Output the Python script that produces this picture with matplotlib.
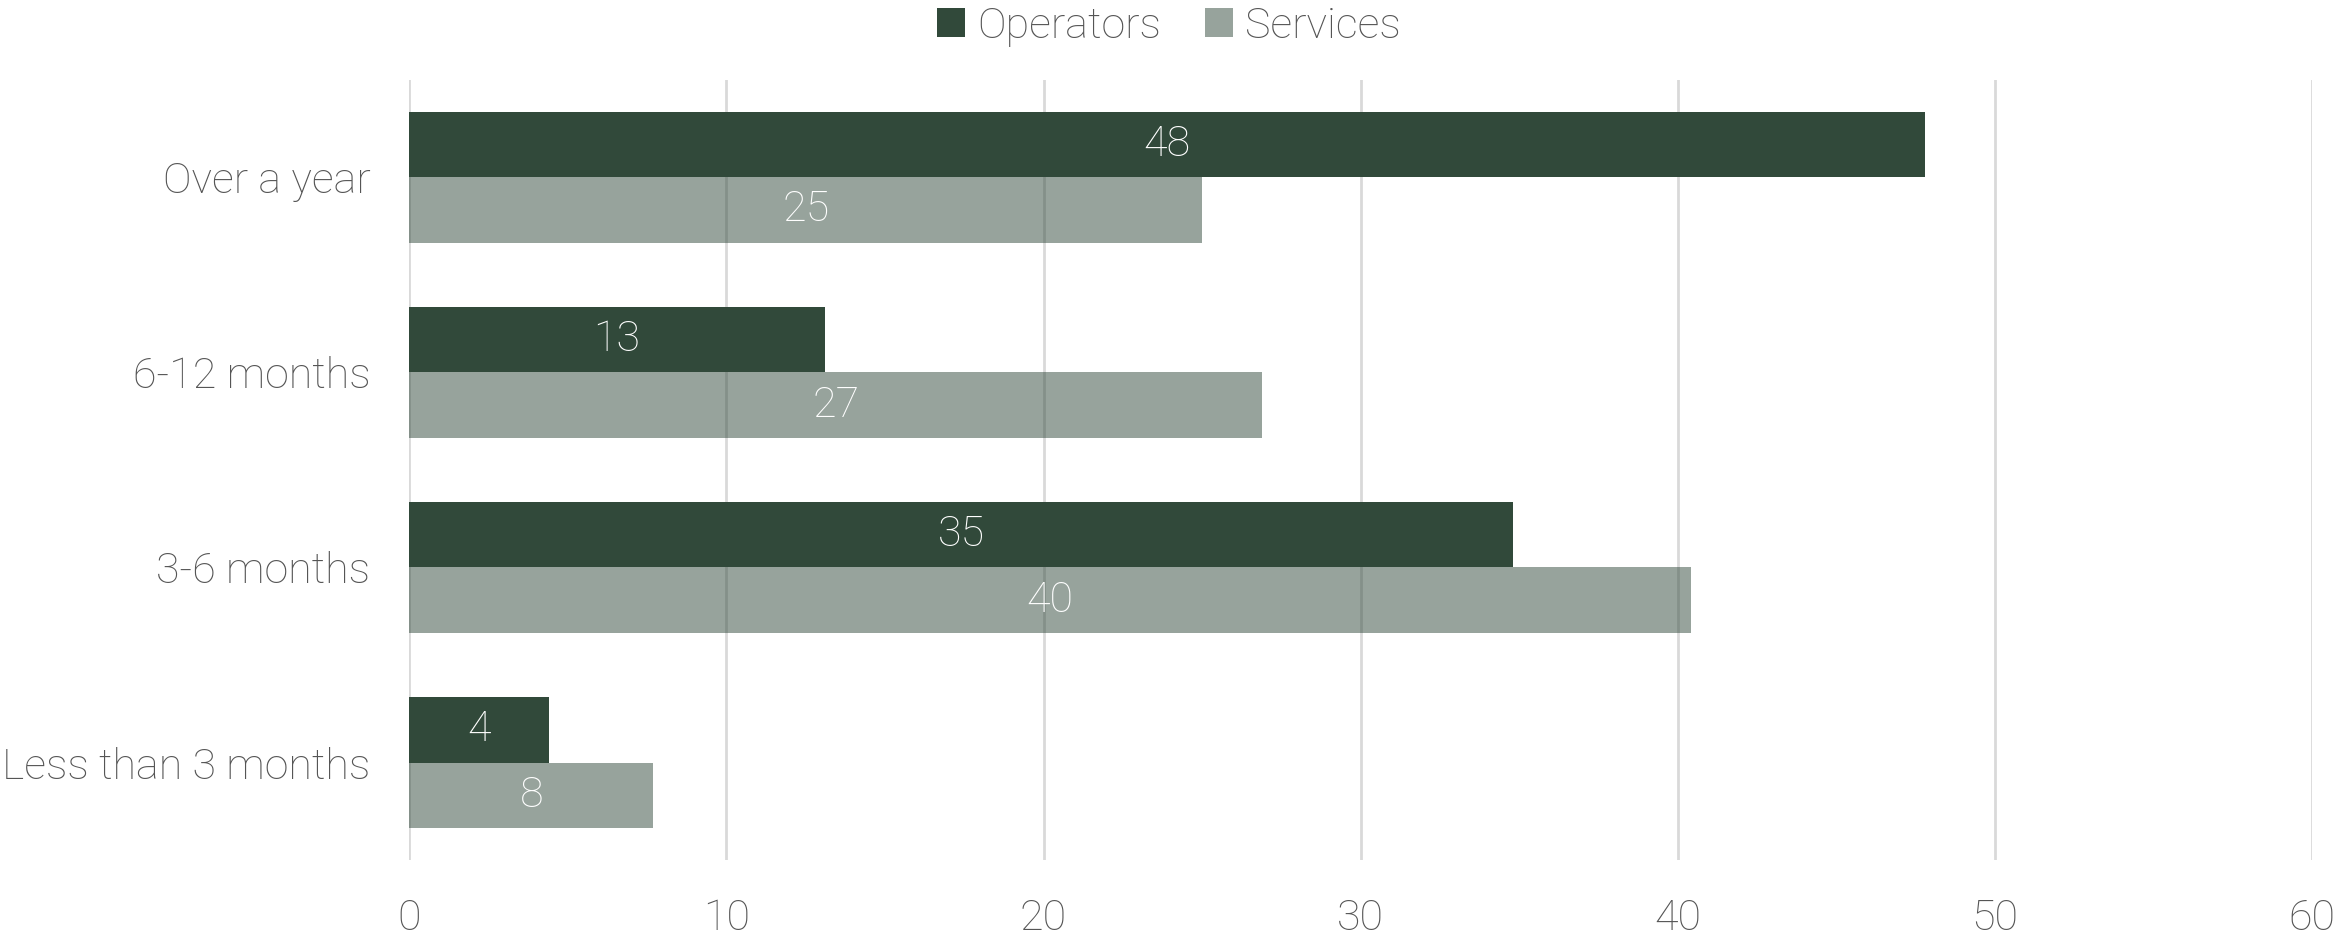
import matplotlib
matplotlib.use("Agg")
import matplotlib.pyplot as plt
import numpy as np

# data
categories = ["Over a year", "6-12 months", "3-6 months", "Less than 3 months"]
operators = [47.8, 13.1, 34.8, 4.4]
services = [25.0, 26.9, 40.4, 7.7]
series_names = ["Operators", "Services"]
xticks = [0, 10, 20, 30, 40, 50, 60]

dark = "#31493A"
txt = "#555555"

plt.rcParams['font.family'] = ['Roboto', 'DejaVu Sans']
plt.rcParams['font.weight'] = 'light'

fig = plt.figure(figsize=(23.38, 9.36), dpi=100)
ax = fig.add_axes([0.175, 0.081, 0.814, 0.834])

y = np.arange(len(categories))
h = 0.336
b1 = ax.barh(y - h / 2, operators, height=h, color=dark, label=series_names[0], zorder=2)
b2 = ax.barh(y + h / 2, services, height=h, color=dark, alpha=0.5,
             label=series_names[1], zorder=2)

# value labels, centred in each bar
for bars, vals in [(b1, operators), (b2, services)]:
    for bar, v in zip(bars, vals):
        ax.text(bar.get_width() / 2, bar.get_y() + bar.get_height() / 2,
                f"{round(v):d}", ha="center", va="center",
                color="white", fontsize=31, zorder=3)

ax.set_xlim(0, 60)
ax.set_ylim(3.5, -0.5)
ax.set_xticks(xticks)
ax.set_yticks(y)
ax.set_yticklabels(categories)
ax.xaxis.grid(True, color="#D9D9D9", linewidth=2, zorder=1)
ax.set_axisbelow(True)
for s in ax.spines.values():
    s.set_visible(False)
ax.tick_params(axis="both", length=0, labelsize=31, labelcolor=txt)
ax.tick_params(axis="x", pad=27)
ax.tick_params(axis="y", pad=28)

fig.legend(loc="upper center", bbox_to_anchor=(0.5, 1.035), ncol=2, frameon=False,
           fontsize=31, labelcolor=txt, handlelength=0.65, handleheight=0.65,
           handletextpad=0.3, columnspacing=1.0)

fig.savefig("out.png", dpi=100)
